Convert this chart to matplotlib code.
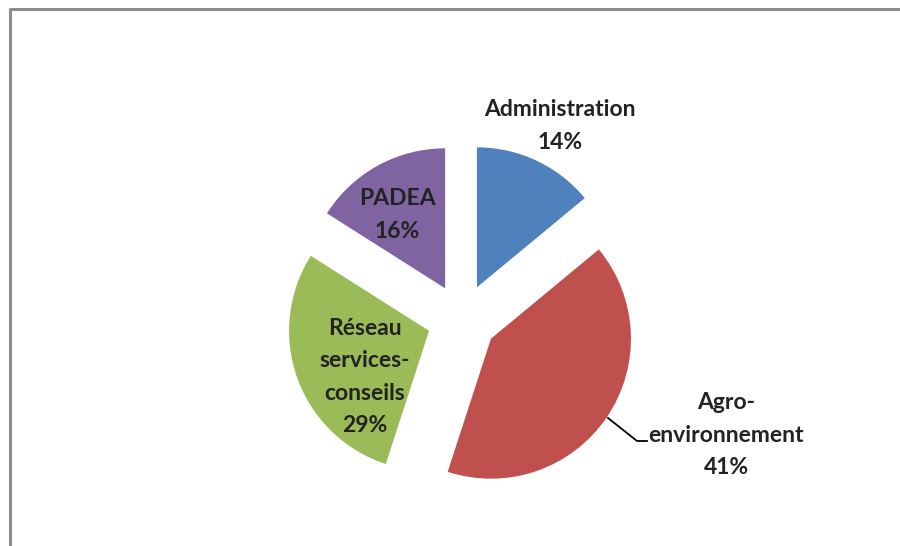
import matplotlib
matplotlib.use("Agg")
import matplotlib.pyplot as plt

# Data
labels = ["Administration", "Agro-\nenvironnement", "Réseau\nservices-\nconseils", "PADEA"]
shares = [14, 41, 29, 16]
colors = ["#4F81BD", "#C0504D", "#9BBB59", "#8064A2"]

W, H = 900, 546
fig = plt.figure(figsize=(9, 5.46), dpi=100)
ax = fig.add_axes([0, 0, 1, 1])

# pie centre / radius in pixel units (y measured from bottom)
cx, cy, r = 462, H - 319, 140
ax.pie(shares, colors=colors, startangle=90, counterclock=False,
       explode=[35] * 4, radius=r, center=(cx, cy), frame=True,
       wedgeprops=dict(linewidth=0))
ax.set_xlim(0, W)
ax.set_ylim(0, H)
ax.set_aspect("equal")
ax.axis("off")

font = dict(family=["Lato", "DejaVu Sans"], fontsize=16.5, fontweight="bold",
            color="#222222", ha="center", va="center", linespacing=1.65)

# label texts (name + percent)
txt = [f"{l}\n{v}%" for l, v in zip(labels, shares)]
ax.text(560, H - 126, txt[0], **font)
ax.text(726, H - 435, txt[1], **font)
ax.text(365, H - 377, txt[2], **font)
ax.text(397, H - 215, txt[3], **font)

# leader line for Agro-environnement
ax.plot([608, 637, 647], [H - 418, H - 441, H - 441], color="black", lw=1.3)

# outer frame (left and top visible)
ax.plot([10, 10, W + 5], [-5, H - 9, H - 9], color="#8c8c8c", lw=2.2, clip_on=False)

fig.savefig("out.png", dpi=100, facecolor="white")
